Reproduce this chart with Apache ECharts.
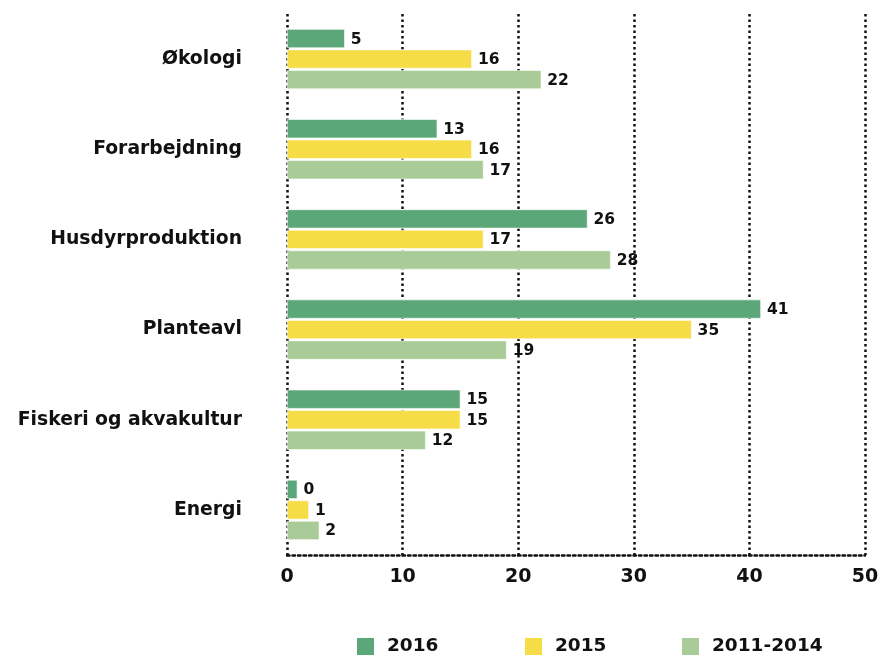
<!DOCTYPE html>
<html>
<head>
<meta charset="utf-8">
<script src="https://cdn.jsdelivr.net/npm/echarts@6/dist/echarts.min.js"></script>
<style>
html,body{margin:0;padding:0;background:#fff;}
#chart{width:882px;height:657px;}
</style>
</head>
<body>
<div id="chart"></div>
<script>
const categories = ['Økologi', 'Forarbejdning', 'Husdyrproduktion', 'Planteavl', 'Fiskeri og akvakultur', 'Energi'];
const seriesNames = ['2016', '2015', '2011-2014'];
const values2016 = [5, 13, 26, 41, 15, 0.9];
const values2015 = [16, 16, 17, 35, 15, 1.9];
const values20112014 = [22, 17, 28, 19, 12, 2.8];
const labels2016 = ['5', '13', '26', '41', '15', '0'];
const labels2015 = ['16', '16', '17', '35', '15', '1'];
const labels20112014 = ['22', '17', '28', '19', '12', '2'];
const xTicks = [0, 10, 20, 30, 40, 50];
const colors = ['#5ba77a', '#f6dd47', '#a8cb97'];

const FONT = '"DejaVu Sans", sans-serif';
const chart = echarts.init(document.getElementById('chart'));

function makeSeries(name, vals, labs, color) {
  return {
    name: name,
    type: 'bar',
    data: vals,
    barWidth: 19,
    barGap: '8%',
    itemStyle: { color: color, borderColor: '#ffffff', borderWidth: 0.6 },
    label: {
      show: true,
      position: 'right',
      distance: 6,
      color: '#111',
      fontFamily: FONT,
      fontWeight: 'bold',
      fontSize: 15.5,
      offset: [0, 1],
      formatter: p => labs[p.dataIndex]
    },
    emphasis: { disabled: true },
    animation: false
  };
}

function legendAt(name, left) {
  return {
    data: [name],
    left: left,
    top: 636,
    padding: 0,
    itemWidth: 19,
    itemHeight: 19,
    icon: 'rect',
    textStyle: { color: '#111', fontFamily: FONT, fontWeight: 'bold', fontSize: 18.5, padding: [0, 0, 0, 7] },
    selectedMode: false
  };
}

chart.setOption({
  backgroundColor: '#ffffff',
  animation: false,
  grid: { left: 287, right: 17, top: 14, bottom: 102, containLabel: false },
  legend: [legendAt(seriesNames[0], 355), legendAt(seriesNames[1], 523), legendAt(seriesNames[2], 680)],
  xAxis: {
    type: 'value',
    min: xTicks[0],
    max: xTicks[xTicks.length - 1],
    interval: 10,
    axisLine: { show: true, lineStyle: { color: '#111', width: 2.5, type: [2.5, 3] } },
    axisTick: { show: false },
    splitLine: { show: true, lineStyle: { color: '#111', width: 2.5, type: [2.5, 3] } },
    axisLabel: { color: '#111', fontFamily: FONT, fontWeight: 'bold', fontSize: 19, margin: 13 }
  },
  yAxis: {
    type: 'category',
    data: categories,
    inverse: true,
    axisLine: { show: false },
    axisTick: { show: false },
    splitLine: { show: false },
    axisLabel: { color: '#111', fontFamily: FONT, fontWeight: 'bold', fontSize: 18.8, margin: 45 }
  },
  series: [
    makeSeries(seriesNames[0], values2016, labels2016, colors[0]),
    makeSeries(seriesNames[1], values2015, labels2015, colors[1]),
    makeSeries(seriesNames[2], values20112014, labels20112014, colors[2])
  ]
});
</script>
</body>
</html>
